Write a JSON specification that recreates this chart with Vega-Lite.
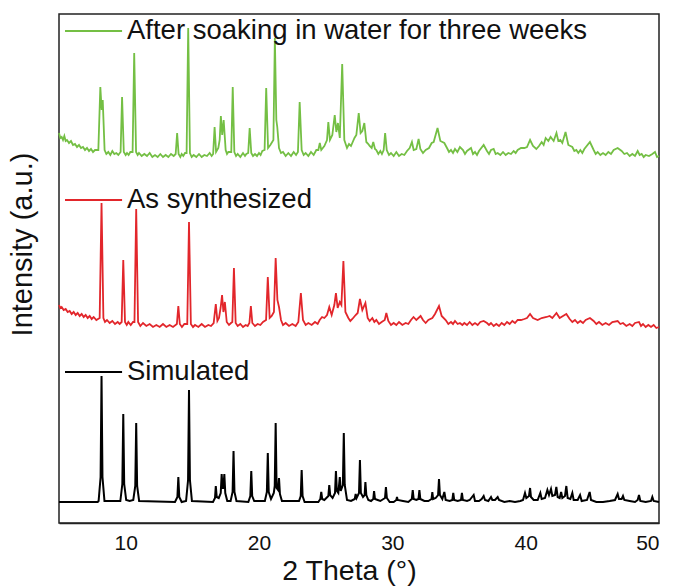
{
  "$schema": "https://vega.github.io/schema/vega-lite/v6.json",
  "autosize": "none",
  "width": 600,
  "height": 509,
  "padding": {"left": 59, "top": 14, "right": 14, "bottom": 64},
  "background": "white",
  "config": {
    "view": {"stroke": "#222", "strokeWidth": 1.5},
    "font": "Liberation Sans"
  },
  "datasets": {
    "soak": [
      {"t":5.0,"v":390},{"t":5.1,"v":385},{"t":5.2,"v":386},{"t":5.3,"v":383},{"t":5.4,"v":387},{"t":5.5,"v":382},{"t":5.6,"v":383},{"t":5.75,"v":380},{"t":5.9,"v":382},{"t":6.05,"v":378},{"t":6.2,"v":379},{"t":6.35,"v":376},{"t":6.5,"v":378},{"t":6.65,"v":375},{"t":6.8,"v":376},{"t":6.95,"v":373},{"t":7.1,"v":375},{"t":7.25,"v":372},{"t":7.4,"v":374},{"t":7.55,"v":371},{"t":7.7,"v":373},{"t":7.95,"v":373},{"t":8.1,"v":436},{"t":8.2,"v":413},{"t":8.28,"v":423},{"t":8.42,"v":373},{"t":8.55,"v":369},{"t":8.7,"v":371},{"t":8.85,"v":368},{"t":9.0,"v":372},{"t":9.15,"v":369},{"t":9.3,"v":370},{"t":9.45,"v":368},{"t":9.62,"v":371},{"t":9.73,"v":426},{"t":9.86,"v":371},{"t":10.0,"v":368},{"t":10.1,"v":370},{"t":10.22,"v":368},{"t":10.35,"v":371},{"t":10.52,"v":371},{"t":10.64,"v":470},{"t":10.78,"v":371},{"t":10.9,"v":368},{"t":11.0,"v":370},{"t":11.2,"v":367},{"t":11.4,"v":369},{"t":11.6,"v":367},{"t":11.8,"v":370},{"t":12.0,"v":366},{"t":12.2,"v":368},{"t":12.4,"v":366},{"t":12.6,"v":369},{"t":12.8,"v":366},{"t":13.0,"v":368},{"t":13.2,"v":366},{"t":13.4,"v":369},{"t":13.6,"v":367},{"t":13.75,"v":369},{"t":13.86,"v":390},{"t":13.97,"v":369},{"t":14.1,"v":366},{"t":14.2,"v":369},{"t":14.32,"v":367},{"t":14.45,"v":370},{"t":14.57,"v":370},{"t":14.69,"v":495},{"t":14.82,"v":370},{"t":14.95,"v":366},{"t":15.1,"v":368},{"t":15.3,"v":366},{"t":15.5,"v":369},{"t":15.7,"v":366},{"t":15.9,"v":368},{"t":16.1,"v":367},{"t":16.3,"v":370},{"t":16.45,"v":367},{"t":16.56,"v":369},{"t":16.67,"v":396},{"t":16.78,"v":371},{"t":16.95,"v":375},{"t":17.05,"v":383},{"t":17.14,"v":407},{"t":17.24,"v":388},{"t":17.35,"v":403},{"t":17.5,"v":373},{"t":17.6,"v":369},{"t":17.7,"v":371},{"t":17.92,"v":371},{"t":18.03,"v":436},{"t":18.15,"v":371},{"t":18.28,"v":367},{"t":18.4,"v":369},{"t":18.6,"v":366},{"t":18.8,"v":370},{"t":18.95,"v":367},{"t":19.05,"v":369},{"t":19.19,"v":370},{"t":19.3,"v":395},{"t":19.42,"v":370},{"t":19.55,"v":367},{"t":19.7,"v":369},{"t":19.85,"v":367},{"t":20.0,"v":370},{"t":20.12,"v":368},{"t":20.25,"v":372},{"t":20.42,"v":373},{"t":20.54,"v":435},{"t":20.68,"v":375},{"t":20.85,"v":378},{"t":21.08,"v":383},{"t":21.19,"v":485},{"t":21.3,"v":403},{"t":21.37,"v":396},{"t":21.5,"v":375},{"t":21.65,"v":370},{"t":21.8,"v":371},{"t":22.0,"v":367},{"t":22.2,"v":370},{"t":22.4,"v":367},{"t":22.6,"v":371},{"t":22.78,"v":368},{"t":22.92,"v":371},{"t":23.05,"v":421},{"t":23.2,"v":373},{"t":23.35,"v":368},{"t":23.5,"v":370},{"t":23.7,"v":367},{"t":23.9,"v":371},{"t":24.1,"v":368},{"t":24.3,"v":373},{"t":24.45,"v":373},{"t":24.56,"v":380},{"t":24.67,"v":373},{"t":24.9,"v":377},{"t":25.1,"v":383},{"t":25.2,"v":401},{"t":25.32,"v":383},{"t":25.5,"v":388},{"t":25.68,"v":408},{"t":25.8,"v":391},{"t":25.92,"v":400},{"t":26.06,"v":385},{"t":26.24,"v":459},{"t":26.4,"v":383},{"t":26.6,"v":375},{"t":26.75,"v":379},{"t":26.9,"v":377},{"t":27.16,"v":385},{"t":27.3,"v":388},{"t":27.48,"v":410},{"t":27.62,"v":390},{"t":27.75,"v":392},{"t":27.9,"v":400},{"t":28.05,"v":381},{"t":28.2,"v":379},{"t":28.3,"v":377},{"t":28.45,"v":375},{"t":28.57,"v":381},{"t":28.7,"v":374},{"t":28.8,"v":373},{"t":28.95,"v":369},{"t":29.1,"v":372},{"t":29.22,"v":369},{"t":29.35,"v":373},{"t":29.46,"v":390},{"t":29.58,"v":373},{"t":29.75,"v":368},{"t":29.9,"v":370},{"t":30.1,"v":367},{"t":30.3,"v":371},{"t":30.5,"v":367},{"t":30.7,"v":369},{"t":30.9,"v":368},{"t":31.1,"v":372},{"t":31.3,"v":375},{"t":31.47,"v":381},{"t":31.6,"v":373},{"t":31.8,"v":374},{"t":31.97,"v":384},{"t":32.1,"v":374},{"t":32.3,"v":370},{"t":32.5,"v":373},{"t":32.75,"v":375},{"t":32.95,"v":380},{"t":33.1,"v":381},{"t":33.39,"v":395},{"t":33.6,"v":382},{"t":33.9,"v":380},{"t":34.1,"v":375},{"t":34.25,"v":371},{"t":34.4,"v":373},{"t":34.55,"v":370},{"t":34.7,"v":374},{"t":34.88,"v":371},{"t":35.07,"v":376},{"t":35.3,"v":373},{"t":35.45,"v":369},{"t":35.6,"v":372},{"t":35.9,"v":375},{"t":36.05,"v":369},{"t":36.2,"v":371},{"t":36.35,"v":368},{"t":36.5,"v":372},{"t":36.85,"v":378},{"t":37.1,"v":372},{"t":37.25,"v":369},{"t":37.4,"v":373},{"t":37.6,"v":374},{"t":37.75,"v":369},{"t":37.9,"v":370},{"t":38.1,"v":368},{"t":38.3,"v":371},{"t":38.5,"v":368},{"t":38.7,"v":370},{"t":38.9,"v":369},{"t":39.1,"v":372},{"t":39.25,"v":370},{"t":39.4,"v":373},{"t":39.65,"v":375},{"t":39.9,"v":375},{"t":40.1,"v":376},{"t":40.33,"v":383},{"t":40.55,"v":377},{"t":40.8,"v":374},{"t":41.0,"v":377},{"t":41.2,"v":381},{"t":41.35,"v":378},{"t":41.5,"v":385},{"t":41.7,"v":382},{"t":41.87,"v":386},{"t":42.1,"v":382},{"t":42.31,"v":390},{"t":42.45,"v":382},{"t":42.6,"v":383},{"t":42.75,"v":380},{"t":42.99,"v":391},{"t":43.2,"v":378},{"t":43.5,"v":376},{"t":43.65,"v":372},{"t":43.8,"v":373},{"t":43.95,"v":370},{"t":44.1,"v":373},{"t":44.25,"v":370},{"t":44.4,"v":374},{"t":44.82,"v":381},{"t":45.1,"v":373},{"t":45.25,"v":369},{"t":45.4,"v":371},{"t":45.6,"v":368},{"t":45.8,"v":370},{"t":46.0,"v":368},{"t":46.2,"v":371},{"t":46.4,"v":369},{"t":46.6,"v":373},{"t":46.9,"v":375},{"t":47.2,"v":372},{"t":47.4,"v":369},{"t":47.6,"v":370},{"t":47.8,"v":367},{"t":48.0,"v":369},{"t":48.2,"v":367},{"t":48.4,"v":372},{"t":48.55,"v":368},{"t":48.7,"v":369},{"t":48.85,"v":366},{"t":49.0,"v":368},{"t":49.25,"v":367},{"t":49.5,"v":369},{"t":49.7,"v":371},{"t":49.85,"v":366},{"t":50.0,"v":367}
    ],
    "syn": [
      {"t":5.0,"v":218},{"t":5.1,"v":215},{"t":5.2,"v":216},{"t":5.35,"v":213},{"t":5.5,"v":214},{"t":5.65,"v":211},{"t":5.8,"v":212},{"t":5.95,"v":209},{"t":6.1,"v":211},{"t":6.25,"v":208},{"t":6.4,"v":210},{"t":6.55,"v":207},{"t":6.7,"v":209},{"t":6.85,"v":206},{"t":7.0,"v":208},{"t":7.15,"v":205},{"t":7.3,"v":207},{"t":7.45,"v":204},{"t":7.6,"v":206},{"t":7.8,"v":203},{"t":8.05,"v":205},{"t":8.19,"v":320},{"t":8.33,"v":205},{"t":8.45,"v":201},{"t":8.6,"v":203},{"t":8.8,"v":200},{"t":9.0,"v":202},{"t":9.2,"v":199},{"t":9.4,"v":201},{"t":9.55,"v":199},{"t":9.7,"v":201},{"t":9.82,"v":263},{"t":9.95,"v":201},{"t":10.08,"v":198},{"t":10.2,"v":201},{"t":10.38,"v":198},{"t":10.55,"v":201},{"t":10.66,"v":201},{"t":10.79,"v":314},{"t":10.93,"v":201},{"t":11.1,"v":197},{"t":11.3,"v":200},{"t":11.55,"v":197},{"t":11.8,"v":199},{"t":12.05,"v":196},{"t":12.3,"v":198},{"t":12.55,"v":196},{"t":12.8,"v":199},{"t":13.05,"v":196},{"t":13.3,"v":198},{"t":13.55,"v":196},{"t":13.84,"v":199},{"t":13.95,"v":217},{"t":14.06,"v":199},{"t":14.22,"v":196},{"t":14.4,"v":199},{"t":14.62,"v":199},{"t":14.75,"v":301},{"t":14.89,"v":199},{"t":15.05,"v":196},{"t":15.2,"v":198},{"t":15.45,"v":196},{"t":15.7,"v":199},{"t":15.95,"v":196},{"t":16.2,"v":198},{"t":16.4,"v":197},{"t":16.6,"v":200},{"t":16.76,"v":219},{"t":16.88,"v":202},{"t":17.0,"v":205},{"t":17.12,"v":215},{"t":17.23,"v":228},{"t":17.33,"v":211},{"t":17.44,"v":221},{"t":17.58,"v":201},{"t":17.75,"v":198},{"t":17.9,"v":200},{"t":18.0,"v":201},{"t":18.12,"v":255},{"t":18.25,"v":200},{"t":18.4,"v":197},{"t":18.6,"v":199},{"t":18.8,"v":196},{"t":19.0,"v":198},{"t":19.15,"v":197},{"t":19.28,"v":200},{"t":19.39,"v":217},{"t":19.5,"v":200},{"t":19.7,"v":197},{"t":19.9,"v":199},{"t":20.1,"v":198},{"t":20.3,"v":201},{"t":20.53,"v":203},{"t":20.66,"v":246},{"t":20.8,"v":205},{"t":20.95,"v":207},{"t":21.12,"v":211},{"t":21.25,"v":265},{"t":21.38,"v":223},{"t":21.5,"v":216},{"t":21.65,"v":203},{"t":21.8,"v":198},{"t":22.0,"v":200},{"t":22.25,"v":197},{"t":22.5,"v":199},{"t":22.75,"v":197},{"t":22.95,"v":201},{"t":23.14,"v":230},{"t":23.3,"v":203},{"t":23.5,"v":198},{"t":23.7,"v":200},{"t":23.95,"v":198},{"t":24.2,"v":201},{"t":24.4,"v":199},{"t":24.55,"v":203},{"t":24.73,"v":206},{"t":24.9,"v":205},{"t":25.1,"v":208},{"t":25.27,"v":216},{"t":25.45,"v":208},{"t":25.65,"v":218},{"t":25.77,"v":230},{"t":25.9,"v":215},{"t":26.06,"v":221},{"t":26.18,"v":218},{"t":26.33,"v":262},{"t":26.48,"v":211},{"t":26.7,"v":205},{"t":26.85,"v":202},{"t":27.0,"v":204},{"t":27.25,"v":208},{"t":27.4,"v":210},{"t":27.57,"v":224},{"t":27.75,"v":213},{"t":27.98,"v":220},{"t":28.15,"v":205},{"t":28.3,"v":202},{"t":28.5,"v":205},{"t":28.65,"v":201},{"t":28.8,"v":203},{"t":29.0,"v":199},{"t":29.2,"v":201},{"t":29.43,"v":203},{"t":29.55,"v":210},{"t":29.7,"v":202},{"t":29.9,"v":198},{"t":30.1,"v":200},{"t":30.3,"v":198},{"t":30.5,"v":201},{"t":30.75,"v":198},{"t":31.0,"v":200},{"t":31.2,"v":199},{"t":31.4,"v":203},{"t":31.59,"v":206},{"t":31.8,"v":203},{"t":32.12,"v":207},{"t":32.3,"v":203},{"t":32.5,"v":200},{"t":32.7,"v":203},{"t":33.0,"v":205},{"t":33.2,"v":209},{"t":33.5,"v":217},{"t":33.7,"v":207},{"t":34.0,"v":203},{"t":34.2,"v":199},{"t":34.4,"v":201},{"t":34.55,"v":199},{"t":34.7,"v":202},{"t":34.9,"v":199},{"t":35.07,"v":200},{"t":35.25,"v":198},{"t":35.4,"v":200},{"t":35.6,"v":198},{"t":35.8,"v":201},{"t":36.0,"v":198},{"t":36.2,"v":200},{"t":36.4,"v":198},{"t":36.6,"v":201},{"t":36.85,"v":202},{"t":37.1,"v":200},{"t":37.25,"v":198},{"t":37.4,"v":200},{"t":37.6,"v":197},{"t":37.8,"v":199},{"t":38.0,"v":197},{"t":38.2,"v":200},{"t":38.4,"v":198},{"t":38.6,"v":201},{"t":38.8,"v":199},{"t":39.0,"v":202},{"t":39.2,"v":200},{"t":39.4,"v":203},{"t":39.65,"v":203},{"t":39.9,"v":204},{"t":40.1,"v":205},{"t":40.33,"v":209},{"t":40.55,"v":205},{"t":40.9,"v":203},{"t":41.2,"v":205},{"t":41.57,"v":206},{"t":41.8,"v":207},{"t":42.0,"v":205},{"t":42.31,"v":210},{"t":42.55,"v":205},{"t":42.8,"v":207},{"t":43.05,"v":209},{"t":43.3,"v":204},{"t":43.5,"v":201},{"t":43.7,"v":203},{"t":43.9,"v":200},{"t":44.1,"v":202},{"t":44.3,"v":200},{"t":44.5,"v":203},{"t":44.82,"v":205},{"t":45.1,"v":202},{"t":45.3,"v":199},{"t":45.5,"v":201},{"t":45.75,"v":198},{"t":46.0,"v":200},{"t":46.25,"v":198},{"t":46.5,"v":201},{"t":46.9,"v":202},{"t":47.1,"v":199},{"t":47.3,"v":200},{"t":47.55,"v":197},{"t":47.8,"v":199},{"t":48.0,"v":197},{"t":48.2,"v":200},{"t":48.5,"v":201},{"t":48.65,"v":197},{"t":48.8,"v":199},{"t":49.0,"v":196},{"t":49.2,"v":198},{"t":49.4,"v":196},{"t":49.6,"v":198},{"t":49.8,"v":195},{"t":50.0,"v":196}
    ],
    "sim": [
      {"t":5.0,"v":21},{"t":7.9,"v":21},{"t":7.97,"v":22},{"t":8.12,"v":46},{"t":8.19,"v":147},{"t":8.26,"v":46},{"t":8.41,"v":22},{"t":9.6,"v":22},{"t":9.75,"v":39},{"t":9.82,"v":109},{"t":9.89,"v":39},{"t":10.04,"v":23},{"t":10.3,"v":22},{"t":10.57,"v":23},{"t":10.72,"v":37},{"t":10.79,"v":100},{"t":10.86,"v":37},{"t":11.01,"v":22},{"t":13.7,"v":21},{"t":13.88,"v":26},{"t":13.95,"v":46},{"t":14.02,"v":26},{"t":14.2,"v":21},{"t":14.53,"v":22},{"t":14.68,"v":43},{"t":14.75,"v":133},{"t":14.82,"v":43},{"t":14.97,"v":22},{"t":16.55,"v":21},{"t":16.7,"v":25},{"t":16.76,"v":37},{"t":16.83,"v":26},{"t":16.98,"v":25},{"t":17.13,"v":30},{"t":17.2,"v":49},{"t":17.27,"v":35},{"t":17.33,"v":35},{"t":17.4,"v":49},{"t":17.47,"v":30},{"t":17.62,"v":22},{"t":17.87,"v":22},{"t":18.02,"v":31},{"t":18.09,"v":72},{"t":18.16,"v":31},{"t":18.31,"v":22},{"t":19.2,"v":21},{"t":19.35,"v":27},{"t":19.42,"v":52},{"t":19.49,"v":27},{"t":19.64,"v":22},{"t":20.44,"v":22},{"t":20.59,"v":31},{"t":20.66,"v":70},{"t":20.73,"v":31},{"t":20.9,"v":24},{"t":21.11,"v":30},{"t":21.18,"v":37},{"t":21.25,"v":100},{"t":21.32,"v":35},{"t":21.43,"v":33},{"t":21.5,"v":45},{"t":21.57,"v":29},{"t":21.72,"v":22},{"t":23.0,"v":22},{"t":23.13,"v":27},{"t":23.2,"v":53},{"t":23.27,"v":27},{"t":23.42,"v":21},{"t":24.45,"v":21},{"t":24.6,"v":24},{"t":24.67,"v":31},{"t":24.74,"v":24},{"t":24.9,"v":23},{"t":25.2,"v":27},{"t":25.27,"v":38},{"t":25.34,"v":28},{"t":25.52,"v":25},{"t":25.7,"v":30},{"t":25.77,"v":52},{"t":25.84,"v":32},{"t":25.95,"v":30},{"t":26.06,"v":46},{"t":26.13,"v":32},{"t":26.29,"v":38},{"t":26.36,"v":90},{"t":26.43,"v":38},{"t":26.6,"v":23},{"t":26.9,"v":22},{"t":27.18,"v":24},{"t":27.25,"v":29},{"t":27.32,"v":25},{"t":27.5,"v":30},{"t":27.57,"v":63},{"t":27.64,"v":30},{"t":27.8,"v":26},{"t":27.92,"v":28},{"t":27.98,"v":41},{"t":28.05,"v":28},{"t":28.2,"v":23},{"t":28.4,"v":22},{"t":28.57,"v":24},{"t":28.63,"v":32},{"t":28.7,"v":24},{"t":28.9,"v":23},{"t":29.1,"v":22},{"t":29.45,"v":25},{"t":29.52,"v":36},{"t":29.59,"v":25},{"t":29.8,"v":21},{"t":30.1,"v":21},{"t":30.3,"v":23},{"t":30.35,"v":26},{"t":30.4,"v":23},{"t":30.8,"v":22},{"t":31.2,"v":21},{"t":31.46,"v":24},{"t":31.53,"v":33},{"t":31.6,"v":24},{"t":31.8,"v":23},{"t":31.96,"v":24},{"t":32.03,"v":33},{"t":32.1,"v":24},{"t":32.4,"v":22},{"t":32.7,"v":22},{"t":32.94,"v":24},{"t":33.0,"v":31},{"t":33.06,"v":24},{"t":33.25,"v":25},{"t":33.43,"v":28},{"t":33.5,"v":44},{"t":33.57,"v":28},{"t":33.75,"v":24},{"t":33.9,"v":31},{"t":34.0,"v":23},{"t":34.3,"v":22},{"t":34.5,"v":23},{"t":34.57,"v":30},{"t":34.64,"v":23},{"t":34.9,"v":22},{"t":35.15,"v":23},{"t":35.22,"v":30},{"t":35.29,"v":23},{"t":35.6,"v":22},{"t":35.8,"v":23},{"t":36.1,"v":28},{"t":36.2,"v":22},{"t":36.5,"v":22},{"t":36.7,"v":24},{"t":36.85,"v":27},{"t":36.95,"v":23},{"t":37.2,"v":22},{"t":37.4,"v":26},{"t":37.5,"v":23},{"t":37.7,"v":23},{"t":37.9,"v":26},{"t":38.0,"v":23},{"t":38.4,"v":21},{"t":38.8,"v":22},{"t":39.2,"v":21},{"t":39.6,"v":22},{"t":39.8,"v":23},{"t":39.95,"v":30},{"t":40.05,"v":25},{"t":40.25,"v":27},{"t":40.33,"v":35},{"t":40.4,"v":26},{"t":40.6,"v":23},{"t":40.9,"v":23},{"t":41.1,"v":30},{"t":41.2,"v":24},{"t":41.45,"v":25},{"t":41.63,"v":33},{"t":41.75,"v":28},{"t":41.9,"v":34},{"t":42.0,"v":27},{"t":42.2,"v":28},{"t":42.3,"v":36},{"t":42.4,"v":26},{"t":42.55,"v":25},{"t":42.66,"v":31},{"t":42.75,"v":25},{"t":42.95,"v":27},{"t":43.05,"v":37},{"t":43.15,"v":25},{"t":43.35,"v":24},{"t":43.5,"v":30},{"t":43.6,"v":23},{"t":43.9,"v":23},{"t":44.08,"v":28},{"t":44.2,"v":22},{"t":44.6,"v":23},{"t":44.8,"v":31},{"t":44.9,"v":23},{"t":45.3,"v":21},{"t":45.8,"v":21},{"t":46.3,"v":22},{"t":46.7,"v":23},{"t":46.9,"v":29},{"t":47.0,"v":24},{"t":47.2,"v":24},{"t":47.3,"v":27},{"t":47.4,"v":23},{"t":47.8,"v":22},{"t":48.2,"v":21},{"t":48.4,"v":23},{"t":48.5,"v":28},{"t":48.6,"v":22},{"t":49.0,"v":21},{"t":49.4,"v":22},{"t":49.5,"v":26},{"t":49.6,"v":22},{"t":50.0,"v":21}
    ],
    "labels": [
      {"series":"soak","label":"After soaking in water for three weeks","t0":5.45,"t1":9.73,"tx":10.1,"v":492},
      {"series":"syn","label":"As synthesized","t0":5.45,"t1":9.73,"tx":10.1,"v":323},
      {"series":"sim","label":"Simulated","t0":5.45,"t1":9.73,"tx":10.1,"v":151}
    ],
    "major": [{"t":10},{"t":20},{"t":30},{"t":40},{"t":50}],
    "minor": [{"t":15},{"t":25},{"t":35},{"t":45}]
  },
  "encoding": {
    "x": {
      "field": "t", "type": "quantitative",
      "scale": {"domain": [5, 50], "nice": false, "zero": false},
      "axis": {
        "values": [10, 20, 30, 40, 50], "ticks": false, "grid": false,
        "domainColor": "#222", "domainWidth": 1.5,
        "labelFontSize": 21, "labelColor": "#111", "labelPadding": 9, "labelFont": "Liberation Sans",
        "title": "2 Theta (°)", "titleFontSize": 28.5, "titleFontWeight": "normal", "titleColor": "#111", "titleFont": "Liberation Sans",
        "titleX": 290, "titleY": 56, "titleBaseline": "alphabetic", "titleAnchor": "middle"
      }
    },
    "y": {
      "field": "v", "type": "quantitative",
      "scale": {"domain": [0, 509], "nice": false, "zero": false},
      "axis": {
        "labels": false, "ticks": false, "grid": false, "domain": false,
        "title": "Intensity (a.u.)", "titleFontSize": 29, "titleFontWeight": "normal", "titleColor": "#111", "titleFont": "Liberation Sans",
        "titleX": -22, "titleY": 230, "titleAnchor": "middle"
      }
    }
  },
  "layer": [
    {"data": {"name": "sim"}, "mark": {"type": "line", "color": "#000000", "strokeWidth": 2}},
    {"data": {"name": "syn"}, "mark": {"type": "line", "color": "#e2262b", "strokeWidth": 1.8}},
    {"data": {"name": "soak"}, "mark": {"type": "line", "color": "#74bf44", "strokeWidth": 1.8}},
    {
      "data": {"name": "labels"},
      "mark": {"type": "rule", "strokeWidth": 2},
      "encoding": {
        "x": {"field": "t0", "type": "quantitative"},
        "x2": {"field": "t1"},
        "y": {"field": "v", "type": "quantitative"},
        "color": {"field": "series", "type": "nominal", "scale": {"domain": ["soak", "syn", "sim"], "range": ["#74bf44", "#e2262b", "#000000"]}, "legend": null}
      }
    },
    {
      "data": {"name": "labels"},
      "mark": {"type": "text", "align": "left", "baseline": "middle", "fontSize": 27.5, "font": "Liberation Sans", "color": "#111"},
      "encoding": {
        "x": {"field": "tx", "type": "quantitative"},
        "y": {"field": "v", "type": "quantitative"},
        "text": {"field": "label"}
      }
    },
    {
      "data": {"name": "major"},
      "mark": {"type": "rule", "color": "#222", "strokeWidth": 1.5},
      "encoding": {"x": {"field": "t", "type": "quantitative"}, "y": {"datum": 0}, "y2": {"datum": 9}}
    },
    {
      "data": {"name": "minor"},
      "mark": {"type": "rule", "color": "#222", "strokeWidth": 1.5},
      "encoding": {"x": {"field": "t", "type": "quantitative"}, "y": {"datum": 0}, "y2": {"datum": 4.5}}
    }
  ]
}
